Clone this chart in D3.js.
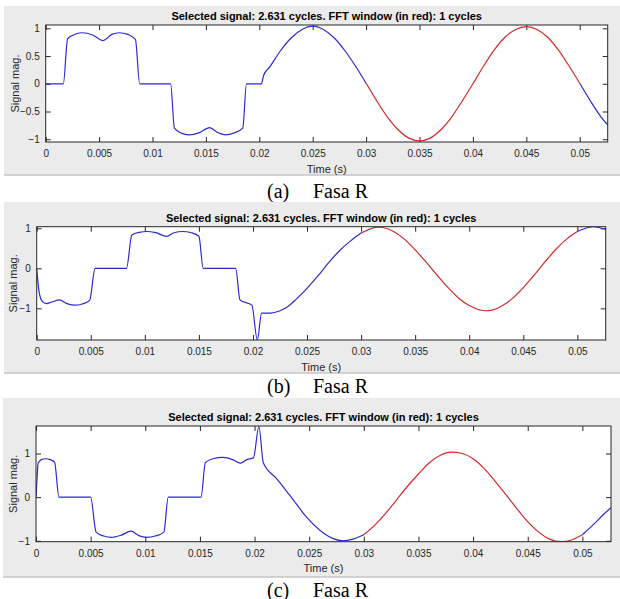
<!DOCTYPE html>
<html>
<head>
<meta charset="utf-8">
<script src="https://cdn.jsdelivr.net/npm/d3@7/dist/d3.min.js"></script>
<style>
	body { margin: 0; background: #fff; }
	text { font-family: 'Liberation Sans', Arial, sans-serif; }
</style>
</head>
<body>
<svg id="fig" width="620" height="599"></svg>
<script>
// chart values
const titleText = 'Selected signal: 2.631 cycles. FFT window (in red): 1 cycles';
const xLabel = 'Time (s)';
const yLabel = 'Signal mag.';
const captions = ['(a)', '(b)', '(c)'];
const captionName = 'Fasa R';
const xMax = 0.05262;
const xTicks = [0, 0.005, 0.01, 0.015, 0.02, 0.025, 0.03, 0.035, 0.04, 0.045, 0.05];
const yTicksA = [-1, -0.5, 0, 0.5, 1];
const yTicksB = [-1, 0, 1];
const yTicksC = [-1, 0, 1];
const windowStart = [0.03, 0.03, 0.03];
const windowEnd = [0.05, 0.05, 0.05];

// [time, value] samples
const signalA = [[0,0],[0.00165,0],[0.00205,0.81],[0.0026,0.88],[0.0034,0.92],[0.0044,0.88],[0.00535,0.78],
	[0.0062,0.89],[0.0069,0.92],[0.0077,0.89],[0.0084,0.8],[0.0088,0],[0.0117,0],[0.01205,-0.8],[0.0127,-0.89],
	[0.0134,-0.92],[0.0144,-0.88],[0.01535,-0.79],[0.0161,-0.88],[0.0168,-0.92],[0.0176,-0.89],[0.01845,-0.8],
	[0.0188,0],[0.0202,0],[0.0204,0.15],[0.021,0.31],[0.022,0.6],[0.023,0.83],[0.024,0.98],[0.025,1.04],
	[0.026,0.98],[0.027,0.83],[0.028,0.6],[0.029,0.32],[0.03,0.01],[0.031,-0.31],[0.032,-0.6],[0.033,-0.83],
	[0.034,-0.98],[0.035,-1.03],[0.036,-0.98],[0.037,-0.83],[0.038,-0.6],[0.039,-0.31],[0.04,0],[0.041,0.32],
	[0.042,0.61],[0.043,0.84],[0.044,0.98],[0.045,1.03],[0.046,0.98],[0.047,0.84],[0.048,0.61],[0.049,0.32],
	[0.05,0.01],[0.051,-0.31],[0.052,-0.6],[0.05262,-0.74]];

const signalB = [[0,0],[0.0002,-0.55],[0.0005,-0.82],[0.0009,-0.88],[0.0014,-0.84],[0.0021,-0.79],[0.0028,-0.88],
	[0.0035,-0.92],[0.0042,-0.89],[0.0049,-0.8],[0.0054,0],[0.0083,0],[0.0088,0.83],[0.0095,0.9],[0.0102,0.92],
	[0.011,0.89],[0.012,0.8],[0.0127,0.89],[0.0135,0.92],[0.0143,0.89],[0.015,0.8],[0.0154,0],[0.0184,0],
	[0.0188,-0.79],[0.0199,-0.92],[0.0204,-1.79],[0.0208,-1.12],[0.0216,-1.12],[0.0225,-1.06],[0.0232,-0.96],
	[0.024,-0.77],[0.025,-0.5],[0.026,-0.19],[0.027,0.14],[0.028,0.44],[0.029,0.68],[0.03,0.88],[0.031,1.0],
	[0.0315,1.03],[0.032,1.02],[0.033,0.92],[0.034,0.73],[0.035,0.46],[0.036,0.16],[0.037,-0.16],[0.038,-0.47],
	[0.039,-0.74],[0.04,-0.93],[0.041,-1.04],[0.0415,-1.06],[0.042,-1.05],[0.043,-0.94],[0.044,-0.75],
	[0.045,-0.48],[0.046,-0.17],[0.047,0.16],[0.048,0.47],[0.049,0.73],[0.05,0.92],[0.051,1.02],[0.0515,1.04],
	[0.052,1.02],[0.05262,0.97]];

const signalC = [[0,0],[0.0001,0.45],[0.0002,0.78],[0.0005,0.86],[0.0009,0.88],[0.0013,0.86],[0.0017,0.8],
	[0.0021,0],[0.005,0],[0.0055,-0.8],[0.0062,-0.89],[0.0069,-0.92],[0.0078,-0.87],[0.0087,-0.78],[0.0094,-0.88],
	[0.0101,-0.92],[0.0109,-0.89],[0.0117,-0.8],[0.0121,0],[0.0151,0],[0.0155,0.79],[0.0162,0.88],[0.0171,0.91],
	[0.018,0.86],[0.0187,0.78],[0.0193,0.86],[0.0199,0.9],[0.0204,1.62],[0.0208,0.79],[0.022,0.43],[0.0232,0.05],
	[0.0248,-0.47],[0.0263,-0.82],[0.0272,-0.95],[0.0281,-1.0],[0.029,-0.96],[0.03,-0.86],[0.031,-0.64],
	[0.032,-0.37],[0.033,-0.06],[0.034,0.25],[0.035,0.53],[0.036,0.79],[0.037,0.96],[0.038,1.03],[0.039,1.0],
	[0.04,0.88],[0.041,0.66],[0.042,0.37],[0.043,0.06],[0.044,-0.26],[0.045,-0.56],[0.046,-0.8],[0.047,-0.96],
	[0.0481,-1.02],[0.049,-0.98],[0.05,-0.86],[0.051,-0.63],[0.052,-0.38],[0.05262,-0.24]];

// layout of the three stacked panels
let panels = [
	{sig: signalA, yDomain: [-1.05, 1.06], yTicks: yTicksA, bg: [4, 6, 616, 169], plot: [45.7, 25, 607.7, 142], capY: 198},
	{sig: signalB, yDomain: [-1.79, 1.04], yTicks: yTicksB, bg: [4, 202, 616, 171], plot: [36.7, 226.7, 605.7, 340], capY: 393},
	{sig: signalC, yDomain: [-1.02, 1.63], yTicks: yTicksC, bg: [3, 398, 617, 179], plot: [36, 426, 611, 541.7], capY: 596.5}
];

// small helper so attributes can be set from an object
d3.selection.prototype.attrs = function (o) {
	for (let k in o) this.attr(k, o[k]);
	return this;
};

let svg = d3.select('#fig');
svg.append('rect').attr('width', 620).attr('height', 599).attr('fill', '#fff');

panels.forEach(function (p, i) {
	let g = svg.append('g');
	let [x0, y0, x1, y1] = p.plot;

	// figure background
	g.append('rect')
		.attrs({x: p.bg[0], y: p.bg[1], width: p.bg[2], height: p.bg[3], fill: '#ebebeb'});
	g.append('line')
		.attrs({x1: p.bg[0], x2: 620, y1: p.bg[1] + p.bg[3], y2: p.bg[1] + p.bg[3], stroke: '#c4c4c4', 'stroke-width': 1.5});

	g.append('rect')
		.attrs({x: x0, y: y0, width: x1 - x0, height: y1 - y0, fill: '#fff'});

	let x = d3.scaleLinear().domain([0, xMax]).range([x0, x1]);
	let y = d3.scaleLinear().domain(p.yDomain).range([y1, y0]);

	// axes, ticks pointing inward on all four sides
	let fmt = d3.format('~g');
	let axB = g.append('g').attr('transform', 'translate(0,' + y1 + ')')
		.call(d3.axisBottom(x).tickValues(xTicks).tickFormat(fmt).tickSizeInner(-5).tickSizeOuter(0).tickPadding(8));
	let axT = g.append('g').attr('transform', 'translate(0,' + y0 + ')')
		.call(d3.axisTop(x).tickValues(xTicks).tickFormat('').tickSizeInner(-5).tickSizeOuter(0));
	let axL = g.append('g').attr('transform', 'translate(' + x0 + ',0)')
		.call(d3.axisLeft(y).tickValues(p.yTicks).tickFormat(fmt).tickSizeInner(-5).tickSizeOuter(0).tickPadding(6));
	let axR = g.append('g').attr('transform', 'translate(' + x1 + ',0)')
		.call(d3.axisRight(y).tickValues(p.yTicks).tickFormat('').tickSizeInner(-5).tickSizeOuter(0));
	[axB, axT, axL, axR].forEach(function (a) {
		a.select('.domain').remove();
		a.selectAll('line').attr('stroke', '#262626');
		a.selectAll('text').attr('fill', '#262626').style('font-size', '10px').style('font-family', "'Liberation Sans', Arial, sans-serif");
	});

	// traces: blue outside the FFT window, red inside it
	let clipId = 'clip' + i;
	g.append('clipPath').attr('id', clipId).append('rect')
		.attrs({x: x0, y: y0, width: x1 - x0, height: y1 - y0});
	let line = d3.line().x(d => x(d[0])).y(d => y(d[1])).curve(d3.curveMonotoneX);
	let parts = [
		{pts: p.sig.filter(d => d[0] <= windowStart[i]), color: '#2a2ad2'},
		{pts: p.sig.filter(d => d[0] >= windowStart[i] && d[0] <= windowEnd[i]), color: '#d12a2a'},
		{pts: p.sig.filter(d => d[0] >= windowEnd[i]), color: '#2a2ad2'}
	];
	g.selectAll('path.trace')
		.data(parts)
		.enter()
		.append('path')
		.attr('class', 'trace')
		.attr('d', d => line(d.pts))
		.attr('stroke', d => d.color)
		.attrs({fill: 'none', 'stroke-width': 1.2, 'clip-path': 'url(#' + clipId + ')'});

	// axes box
	g.append('rect')
		.attrs({x: x0, y: y0, width: x1 - x0, height: y1 - y0, fill: 'none', stroke: '#262626', 'stroke-width': 1});

	// texts
	g.append('text')
		.attrs({x: (x0 + x1) / 2, y: y0 - 5, 'text-anchor': 'middle', fill: '#000'})
		.style('font-size', '11px').style('font-weight', 'bold')
		.text(titleText);
	g.append('text')
		.attrs({x: (x0 + x1) / 2, y: y1 + 30.5, 'text-anchor': 'middle', fill: '#262626'})
		.style('font-size', '11px')
		.text(xLabel);
	g.append('text')
		.attrs({transform: 'translate(' + (i === 0 ? 19 : 17.3) + ',' + ((y0 + y1) / 2) + ') rotate(-90)', 'text-anchor': 'middle', fill: '#262626'})
		.style('font-size', '11px')
		.text(yLabel);

	// caption below each panel
	g.append('text')
		.attrs({x: 267, y: p.capY, fill: '#000'})
		.style('font-family', "'Liberation Serif', 'Times New Roman', serif").style('font-size', '20px')
		.text(captions[i]);
	g.append('text')
		.attrs({x: 313, y: p.capY, fill: '#000'})
		.style('font-family', "'Liberation Serif', 'Times New Roman', serif").style('font-size', '20px')
		.text(captionName);
});
</script>
</body>
</html>
